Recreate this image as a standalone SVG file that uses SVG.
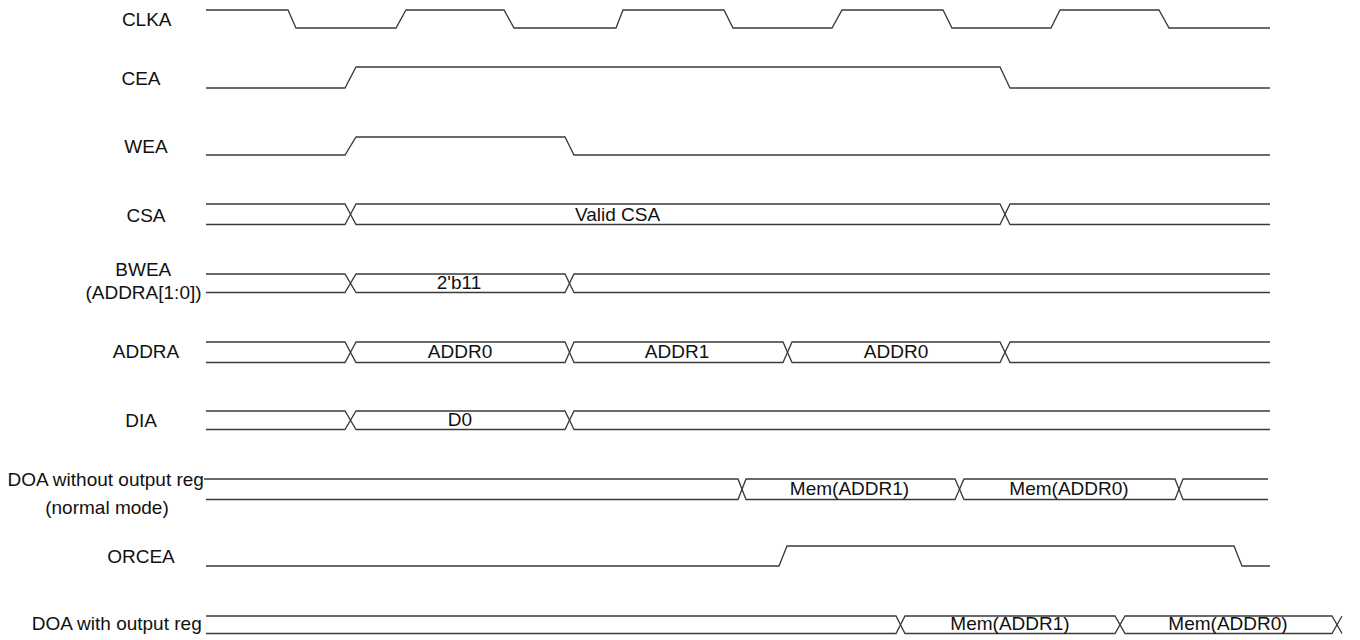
<svg xmlns="http://www.w3.org/2000/svg" width="1360" height="640" viewBox="0 0 1360 640">
<style>
.w{fill:none;stroke:#3a3a3a;stroke-width:1.3;stroke-linejoin:miter}
text{font-family:"Liberation Sans",Arial,sans-serif;font-size:19px;fill:#111;text-anchor:middle}
</style>
<rect width="1360" height="640" fill="#fff"/>
<g id="clka">
<text x="146.7" y="25.7">CLKA</text>
<path class="w" d="M206,10 H288 L296,28 H396 L406,10 H504 L514,28 H616 L623,10 H724 L733,28 H832 L842,10 H943 L952,28 H1051 L1060,10 H1159 L1169,28 H1270"/>
</g>
<g id="cea">
<text x="141" y="85">CEA</text>
<path class="w" d="M206,88 H345 L356,67 H1000 L1010,88 H1270"/>
</g>
<g id="wea">
<text x="146" y="153">WEA</text>
<path class="w" d="M206,155 H345 L356,137 H565 L574,155 H1270"/>
</g>
<g id="csa">
<text x="146" y="221.5">CSA</text>
<path class="w" d="M206,204 H345 L356,224.5 H1000 L1010,204 H1270"/>
<path class="w" d="M206,224.5 H345 L356,204 H1000 L1010,224.5 H1270"/>
<text x="617.5" y="221">Valid CSA</text>
</g>
<g id="bwea">
<text x="143.3" y="276">BWEA</text>
<text x="143.5" y="299">(ADDRA[1:0])</text>
<path class="w" d="M206,274 H345 L356,292.5 H565 L574,274 H1270"/>
<path class="w" d="M206,292.5 H345 L356,274 H565 L574,292.5 H1270"/>
<text x="459" y="289">2'b11</text>
</g>
<g id="addra">
<text x="146" y="358">ADDRA</text>
<path class="w" d="M206,342 H345 L356,362.5 H565 L574,342 H783 L792,362.5 H1000 L1010,342 H1270"/>
<path class="w" d="M206,362.5 H345 L356,342 H565 L574,362.5 H783 L792,342 H1000 L1010,362.5 H1270"/>
<text x="460" y="358">ADDR0</text>
<text x="677" y="358">ADDR1</text>
<text x="896" y="358">ADDR0</text>
</g>
<g id="dia">
<text x="141" y="427">DIA</text>
<path class="w" d="M206,411 H345 L356,429.5 H565 L574,411 H1270"/>
<path class="w" d="M206,429.5 H345 L356,411 H565 L574,429.5 H1270"/>
<text x="460" y="426">D0</text>
</g>
<g id="doa-normal">
<text x="105.7" y="486">DOA without output reg</text>
<text x="107" y="514">(normal mode)</text>
<path class="w" d="M204,479 H738 L746,499.5 H955 L964,479 H1175 L1183,499.5 H1268"/>
<path class="w" d="M206,499.5 H738 L746,479 H955 L964,499.5 H1175 L1183,479 H1268"/>
<text x="849.5" y="495">Mem(ADDR1)</text>
<text x="1069" y="495">Mem(ADDR0)</text>
</g>
<g id="orcea">
<text x="141" y="563">ORCEA</text>
<path class="w" d="M206,566 H779 L787,546 H1234 L1242,566 H1270"/>
</g>
<g id="doa-reg">
<text x="116.7" y="630">DOA with output reg</text>
<path class="w" d="M206,616 H896 L905,633.5 H1115 L1125,616 H1332 L1342,633.5"/>
<path class="w" d="M206,633.5 H896 L905,616 H1115 L1125,633.5 H1332 L1342,616"/>
<text x="1010" y="630">Mem(ADDR1)</text>
<text x="1228" y="630">Mem(ADDR0)</text>
</g>
<g id="connectors"></g>
</svg>
